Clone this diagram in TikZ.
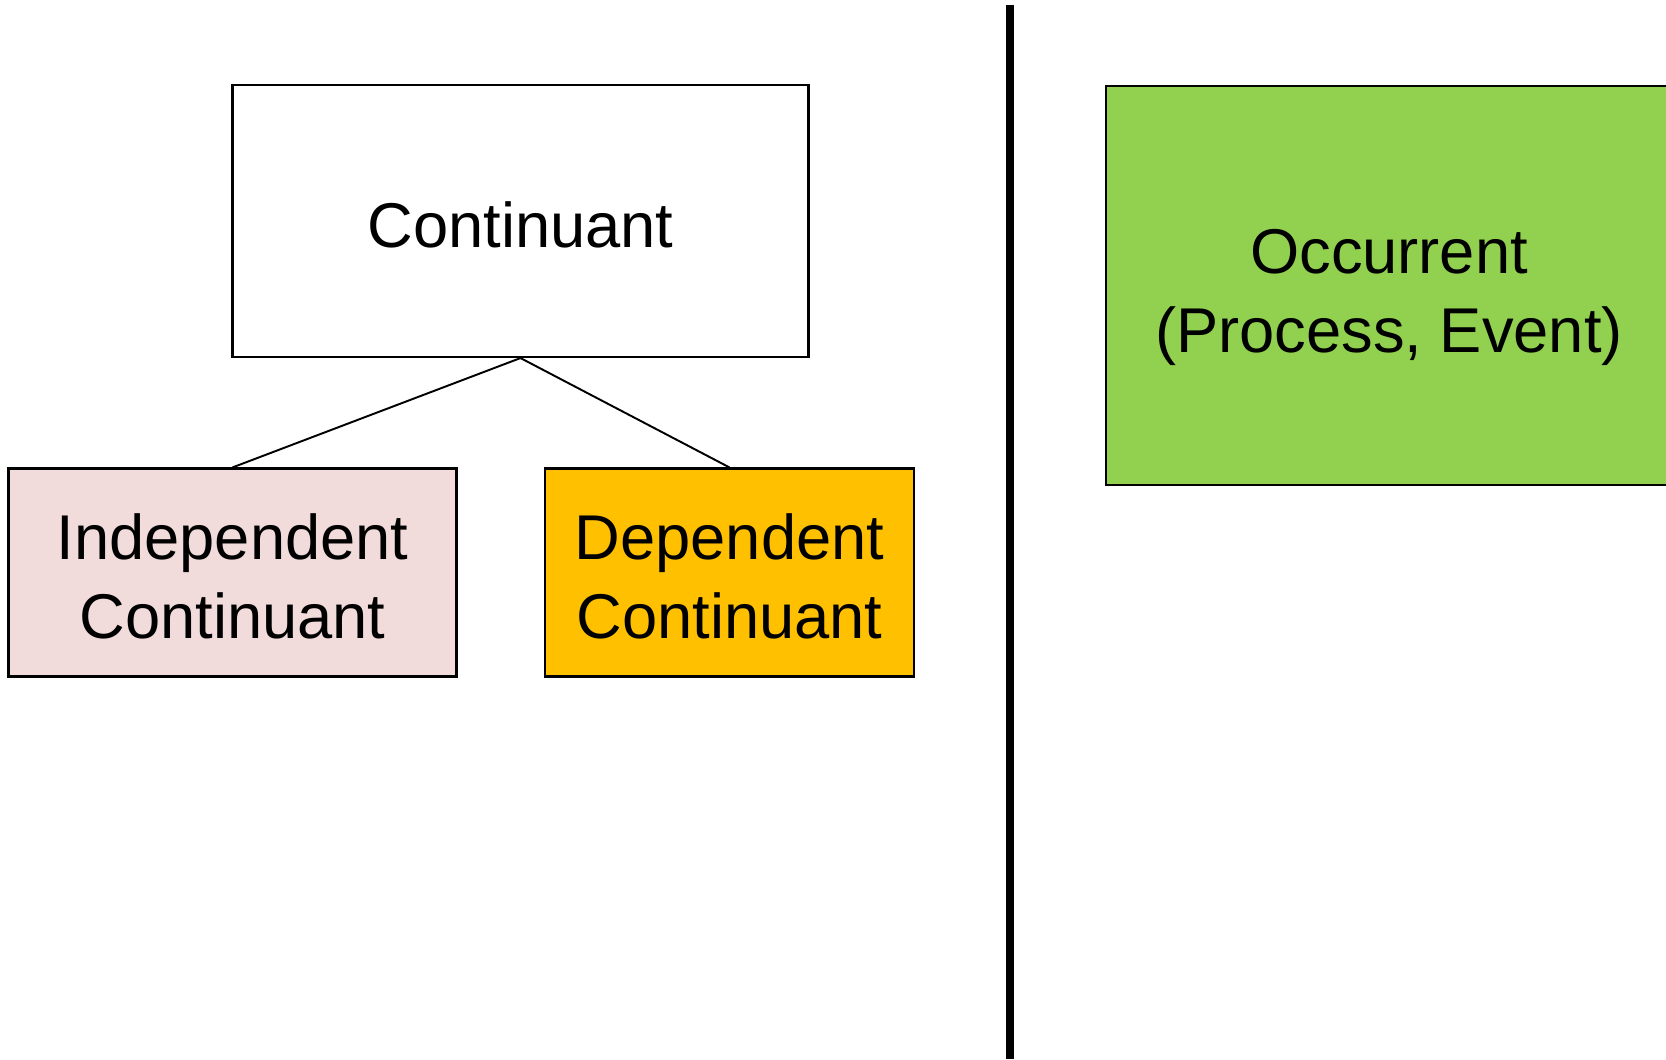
\documentclass[tikz,border=0pt]{standalone}
\usepackage{fontspec}
\setmainfont{Liberation Sans}
\definecolor{indeppink}{HTML}{F2DCDB}
\definecolor{deporange}{HTML}{FFC000}
\definecolor{occgreen}{HTML}{92D050}
\tikzset{
	classbox/.style={draw=black, line width=1.2pt, inner sep=0pt, align=center,
		font=\fontsize{36}{45}\selectfont, textdrop=31pt},
	textdrop/.style={execute at begin node={\rule{0pt}{#1}}},
	branch/.style={line width=1.1pt}
}

\begin{document}
\begin{tikzpicture}
			%%%%% START %%%%%
			
			\useasboundingbox (0, 0) rectangle (33.32, 21.18);
			\clip (0, 0) rectangle (33.32, 21.18);
			
			\node[classbox, fill=white, minimum width=11.52cm, minimum height=5.44cm] (cont) at (10.41, 16.76) {Continuant};
			\node[classbox, textdrop=75pt, fill=indeppink, minimum width=8.96cm, minimum height=4.16cm] (indep) at (4.65, 9.73) {Independent\\Continuant};
			\node[classbox, textdrop=75pt, fill=deporange, minimum width=7.38cm, minimum height=4.16cm] (dep) at (14.59, 9.73) {Dependent\\Continuant};
			
			\draw[branch] (cont.south) -- (indep.north);
			\draw[branch] (cont.south) -- (dep.north);
			
			\draw[line width=4.5pt] (20.2, 21.08) -- (20.2, 0);
			
			\node[classbox, textdrop=84pt, fill=occgreen, minimum width=11.32cm, minimum height=7.97cm] (occ) at (27.78, 15.47) {Occurrent\\(Process, Event)};
			
			%%%%% END %%%%%
		\end{tikzpicture}
\end{document}
